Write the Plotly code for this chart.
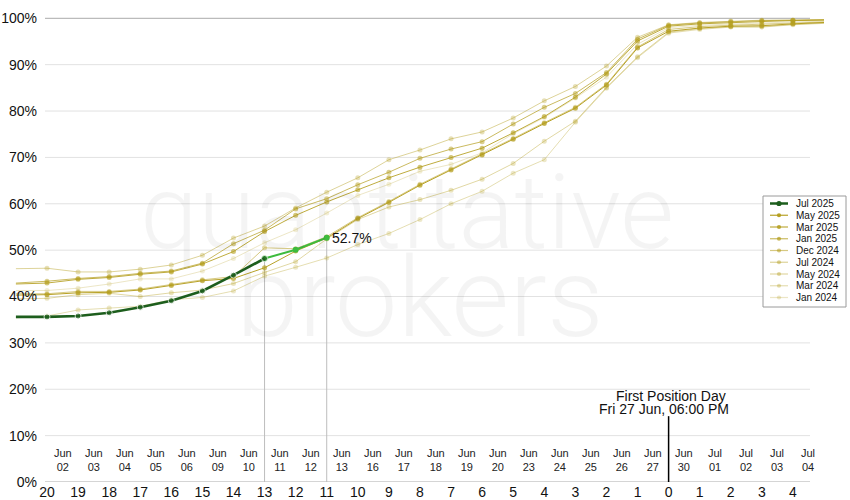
import plotly.graph_objects as go

# ---------------- data ----------------
# trading-day offsets relative to First Position Day (negative = before, positive = after)
day_offsets = list(range(-21, 6))
day_tick_vals = list(range(-20, 5))
day_tick_text = [str(abs(d)) for d in day_tick_vals]
date_labels = ["Jun<br>02", "Jun<br>03", "Jun<br>04", "Jun<br>05", "Jun<br>06", "Jun<br>09",
               "Jun<br>10", "Jun<br>11", "Jun<br>12", "Jun<br>13", "Jun<br>16", "Jun<br>17",
               "Jun<br>18", "Jun<br>19", "Jun<br>20", "Jun<br>23", "Jun<br>24", "Jun<br>25",
               "Jun<br>26", "Jun<br>27", "Jun<br>30", "Jul<br>01", "Jul<br>02", "Jul<br>03",
               "Jul<br>04"]
date_tick_vals = [d + 0.5 for d in day_tick_vals]
y_tick_vals = [0, 10, 20, 30, 40, 50, 60, 70, 80, 90, 100]
y_tick_text = [f"{v}%" for v in y_tick_vals]

# cumulative roll percentage per contract (days 21 before ... 5 after)
jul_2025 = [35.6, 35.6, 35.8, 36.5, 37.7, 39.1, 41.2, 44.6, 48.2, 50.1, 52.7]
may_2025 = [40.3, 40.4, 40.8, 40.9, 41.4, 42.4, 43.4, 43.9, 46.2, 49.8, 52.6, 56.8, 60.3, 64.0,
            67.3, 70.5, 73.9, 77.3, 80.6, 85.6, 93.6, 97.2, 97.9, 98.3, 98.4, 98.8, 99.1]
mar_2025 = [42.7, 42.9, 43.7, 44.1, 44.8, 45.3, 47.0, 49.7, 54.0, 57.5, 60.4, 63.0, 65.6, 67.9,
            70.0, 72.0, 75.3, 78.8, 83.0, 88.0, 95.1, 98.3, 98.8, 99.1, 99.3, 99.5, 99.6]
jan_2025 = [42.9, 43.3, 43.9, 44.3, 45.0, 45.5, 47.2, 51.4, 54.3, 58.9, 61.1, 64.1, 66.8, 69.8,
            71.8, 73.4, 77.2, 80.8, 83.8, 88.3, 95.5, 98.5, 99.0, 99.3, 99.5, 99.6, 99.7]
dec_2024 = [40.6, 40.6, 41.1, 41.1, 41.6, 42.6, 43.6, 44.3, 50.5, 50.3, 52.9, 57.0, 60.5, 64.2,
            67.5, 70.7, 74.1, 77.5, 80.8, 85.8, 93.8, 97.6, 98.2, 98.5, 98.7, 99.0, 99.2]
jul_2024 = [46.0, 46.1, 45.3, 45.3, 45.9, 46.8, 48.9, 52.6, 55.2, 59.1, 62.5, 65.6, 69.5, 71.6,
            74.0, 75.5, 78.5, 82.2, 85.3, 89.7, 95.9, 98.6, 99.1, 99.4, 99.6, 99.6, 99.7]
may_2024 = [39.5, 39.6, 40.4, 40.7, 40.0, 40.8, 41.4, 42.8, 45.2, 47.5, 52.4, 56.6, 59.3, 60.9,
            62.9, 65.3, 68.7, 73.5, 77.8, 85.1, 91.7, 97.0, 97.8, 98.2, 98.2, 98.7, 99.0]
mar_2024 = [35.4, 35.8, 37.1, 37.5, 37.9, 39.3, 39.8, 41.2, 44.4, 46.3, 48.3, 51.2, 53.6, 56.6,
            60.0, 62.7, 66.6, 69.5, 77.6, 84.9, 91.5, 96.8, 97.6, 98.1, 98.1, 98.6, 98.9]
jan_2024 = [41.3, 41.3, 41.8, 42.7, 43.8, 43.8, 45.5, 48.2, 51.6, 54.4, 58.0, 61.8, 64.2, 67.0,
            68.5, 71.0, 75.1, 78.6, 82.8, 87.3, 94.4, 98.0, 98.5, 98.8, 99.0, 99.2, 99.4]

gold_names = ["May 2025", "Mar 2025", "Jan 2025", "Dec 2024", "Jul 2024", "May 2024", "Mar 2024", "Jan 2024"]
gold_values = [may_2025, mar_2025, jan_2025, dec_2024, jul_2024, may_2024, mar_2024, jan_2024]
gold_alpha = [0.95, 0.85, 0.7, 0.55, 0.45, 0.4, 0.34, 0.25]
for v in gold_values:
    assert len(v) == len(day_offsets)

GOLD = (180, 157, 28)
DARK_GREEN = "#1d5e1d"
LIGHT_GREEN = "#3dbb3d"
FONT = "Liberation Sans, Arial, Helvetica, sans-serif"


def gold(a):
    return f"rgba({GOLD[0]},{GOLD[1]},{GOLD[2]},{a})"


# ---------------- geometry (pixels) ----------------
W, H = 850, 500
ML, MR, MT, MB = 15, 24, 10, 18
PW, PH = W - ML - MR, H - MT - MB
STEP = 31.08           # px per trading day
X20 = 47               # pixel of day 20
Y_MAX = 101.79


def px_to_x(px):
    return -20 + (px - X20) / STEP


def pxx(px):   # paper x
    return (px - ML) / PW


def pxy(py):   # paper y
    return (H - MB - py) / PH


fig = go.Figure()

# gold series, lightest first
for name, vals, a in sorted(zip(gold_names, gold_values, gold_alpha), key=lambda t: t[2]):
    sizes = [0] + [5] * (len(vals) - 2) + [0]
    fig.add_trace(go.Scatter(
        x=day_offsets, y=vals, mode="lines+markers", name=name,
        line=dict(color=gold(a), width=1),
        marker=dict(color=gold(a), size=sizes, line=dict(width=0)),
        showlegend=False, hoverinfo="skip"))

# Jul 2025: light-green tail then dark-green body
n_dark = 9
fig.add_trace(go.Scatter(
    x=day_offsets[n_dark - 1:len(jul_2025)], y=jul_2025[n_dark - 1:], mode="lines+markers",
    line=dict(color=LIGHT_GREEN, width=2),
    marker=dict(color=LIGHT_GREEN, size=6), showlegend=False, hoverinfo="skip"))
fig.add_trace(go.Scatter(
    x=day_offsets[:n_dark], y=jul_2025[:n_dark], mode="lines+markers",
    line=dict(color=DARK_GREEN, width=2.6),
    marker=dict(color=DARK_GREEN, size=[0] + [6] * (n_dark - 1)), showlegend=False, hoverinfo="skip"))

GRID_X0, GRID_X1 = pxx(45), pxx(810)
shapes = []
# horizontal grid lines and axis line
for v in y_tick_vals:
    col = "#aaaaaa" if v in (0, 100) else "#e2e2e2"
    shapes.append(dict(type="line", xref="paper", yref="y", x0=GRID_X0, x1=GRID_X1, y0=v, y1=v,
                       line=dict(color=col, width=1), layer="below"))
# drop lines from last dark point and last point
for idx in (n_dark - 1, len(jul_2025) - 1):
    shapes.append(dict(type="line", xref="x", yref="y", x0=day_offsets[idx], x1=day_offsets[idx],
                       y0=0, y1=jul_2025[idx], line=dict(color="#bdbdbd", width=1), layer="below"))
# first position day marker
shapes.append(dict(type="line", xref="x", yref="y", x0=0, x1=0, y0=0, y1=14.2,
                   line=dict(color="#000000", width=1.5)))

# manual legend
LEG_X0, LEG_X1, LEG_Y0, LEG_Y1 = 763, 846, 196, 307
shapes.append(dict(type="rect", xref="paper", yref="paper", x0=pxx(LEG_X0), x1=pxx(LEG_X1),
                   y0=pxy(LEG_Y1), y1=pxy(LEG_Y0), fillcolor="white",
                   line=dict(color="#9a9a9a", width=1), layer="above"))
legend_names = ["Jul 2025"] + gold_names
legend_colors = [DARK_GREEN] + [gold(a) for a in gold_alpha]
annotations = []
# watermark
wm_color = "rgba(0,0,0,0.045)"
annotations.append(dict(xref="paper", yref="paper", x=pxx(407), y=pxy(212), text="quantitative",
                        showarrow=False, xanchor="center", yanchor="middle",
                        font=dict(size=104, color=wm_color, family="Roboto, Lato, sans-serif", weight=300)))
annotations.append(dict(xref="paper", yref="paper", x=pxx(420), y=pxy(298), text="brokers",
                        showarrow=False, xanchor="center", yanchor="middle",
                        font=dict(size=112, color=wm_color, family="Roboto, Lato, sans-serif", weight=300)))

for i, (nm, col) in enumerate(zip(legend_names, legend_colors)):
    yy = 203.5 + i * 11.75
    shapes.append(dict(type="line", xref="paper", yref="paper", x0=pxx(770), x1=pxx(788),
                       y0=pxy(yy), y1=pxy(yy), line=dict(color=col, width=2.5 if i == 0 else 1.2),
                       layer="above"))
    r = 2.6 if i == 0 else 2.1
    shapes.append(dict(type="circle", xref="paper", yref="paper", xsizemode="pixel", ysizemode="pixel",
                       xanchor=pxx(779), yanchor=pxy(yy), x0=-r, x1=r, y0=-r, y1=r,
                       fillcolor=col, line=dict(width=0), layer="above"))
    annotations.append(dict(xref="paper", yref="paper", x=pxx(794), y=pxy(yy), text=nm,
                            showarrow=False, xanchor="left", yanchor="middle",
                            font=dict(size=10, color="#111111", family=FONT)))

# trading-date labels inside the plot above the axis
for xv, lab in zip(date_tick_vals, date_labels):
    annotations.append(dict(xref="x", yref="paper", x=xv, y=pxy(460), text=lab, showarrow=False,
                            xanchor="center", yanchor="middle",
                            font=dict(size=11, color="#222222", family=FONT)))

# last value label
annotations.append(dict(xref="x", yref="y", x=day_offsets[len(jul_2025) - 1], y=jul_2025[-1],
                        text=f"{jul_2025[-1]}%", showarrow=False, xanchor="left", yanchor="middle",
                        xshift=3, font=dict(size=14, color="#111111", family=FONT)))
# first position day label
annotations.append(dict(xref="x", yref="y", x=0, y=18.5, text="First Position Day", showarrow=False,
                        xanchor="center", yanchor="middle", xshift=2,
                        font=dict(size=14, color="#111111", family=FONT)))
annotations.append(dict(xref="x", yref="y", x=0, y=15.7, text="Fri 27 Jun, 06:00 PM", showarrow=False,
                        xanchor="center", yanchor="middle", xshift=-5,
                        font=dict(size=14, color="#111111", family=FONT)))

fig.update_layout(
    width=W, height=H, margin=dict(l=ML, r=MR, t=MT, b=MB, autoexpand=False),
    paper_bgcolor="white", plot_bgcolor="rgba(0,0,0,0)",
    font=dict(family=FONT, color="#111111"),
    showlegend=False,
    xaxis=dict(range=[px_to_x(ML), px_to_x(W - MR)], tickmode="array",
               tickvals=day_tick_vals, ticktext=day_tick_text, tickfont=dict(size=14, color="#111111"),
               showline=False, ticks="", showgrid=False, zeroline=False, automargin=False,
               ticklabelstandoff=0, fixedrange=True),
    yaxis=dict(range=[0, Y_MAX], tickmode="array", tickvals=y_tick_vals,
               ticktext=y_tick_text, tickfont=dict(size=14, color="#111111"), ticks="",
               showgrid=False, zeroline=False, showline=False, automargin=False,
               ticklabelstandoff=-23, fixedrange=True),
    shapes=shapes, annotations=annotations,
)

fig.write_html("out.html", config={"displayModeBar": False},
               post_script="document.body.style.margin='0';")
